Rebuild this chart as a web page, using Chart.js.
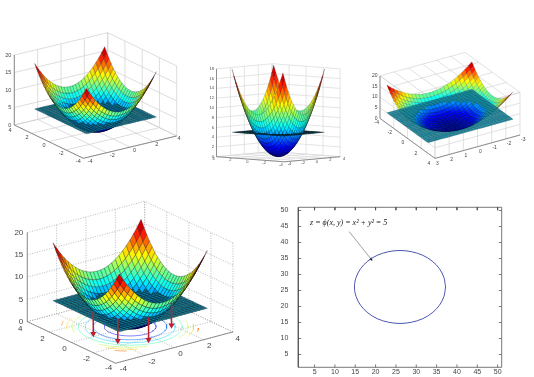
<!DOCTYPE html>
<html>
<head>
<meta charset="utf-8">
<style>
  html, body { margin: 0; padding: 0; background: #fff; }
  body { width: 534px; height: 377px; position: relative; overflow: hidden; }
  canvas { position: absolute; }
</style>
<script src="https://cdn.jsdelivr.net/npm/chart.js@4"></script>
</head>
<body>
<script>
// grid of the surface, x and y run over the same values
const gridAxis = [-3, -2.75, -2.5, -2.25, -2, -1.75, -1.5, -1.25, -1, -0.75, -0.5, -0.25, 0,
                  0.25, 0.5, 0.75, 1, 1.25, 1.5, 1.75, 2, 2.25, 2.5, 2.75, 3];

// z read per quadrant, first row/column is the centre of the bowl (the other 3 quadrants mirror it)
const surfaceZ = [
  [0, .06, .25, .56, 1, 1.56, 2.25, 3.06, 4, 5.06, 6.25, 7.56, 9],
  [.06, .12, .31, .62, 1.06, 1.62, 2.31, 3.12, 4.06, 5.12, 6.31, 7.62, 9.06],
  [.25, .31, .5, .81, 1.25, 1.81, 2.5, 3.31, 4.25, 5.31, 6.5, 7.81, 9.25],
  [.56, .62, .81, 1.12, 1.56, 2.12, 2.81, 3.62, 4.56, 5.62, 6.81, 8.12, 9.56],
  [1, 1.06, 1.25, 1.56, 2, 2.56, 3.25, 4.06, 5, 6.06, 7.25, 8.56, 10],
  [1.56, 1.62, 1.81, 2.12, 2.56, 3.12, 3.81, 4.62, 5.56, 6.62, 7.81, 9.12, 10.56],
  [2.25, 2.31, 2.5, 2.81, 3.25, 3.81, 4.5, 5.31, 6.25, 7.31, 8.5, 9.81, 11.25],
  [3.06, 3.12, 3.31, 3.62, 4.06, 4.62, 5.31, 6.12, 7.06, 8.12, 9.31, 10.62, 12.06],
  [4, 4.06, 4.25, 4.56, 5, 5.56, 6.25, 7.06, 8, 9.06, 10.25, 11.56, 13],
  [5.06, 5.12, 5.31, 5.62, 6.06, 6.62, 7.31, 8.12, 9.06, 10.12, 11.31, 12.62, 14.06],
  [6.25, 6.31, 6.5, 6.81, 7.25, 7.81, 8.5, 9.31, 10.25, 11.31, 12.5, 13.81, 15.25],
  [7.56, 7.62, 7.81, 8.12, 8.56, 9.12, 9.81, 10.62, 11.56, 12.62, 13.81, 15.12, 16.56],
  [9, 9.06, 9.25, 9.56, 10, 10.56, 11.25, 12.06, 13, 14.06, 15.25, 16.56, 18]
];
const planeLevel = 5;

// tick labels
const ticksXY = [-4, -2, 0, 2, 4];
const ticksZ = [0, 5, 10, 15, 20];
const ticksZ18 = [0, 2, 4, 6, 8, 10, 12, 14, 16, 18];
const ticksX3 = [3, 2, 1, 0, -1, -2, -3];
const ticks2d = [5, 10, 15, 20, 25, 30, 35, 40, 45, 50];

// contours under the big surface
const contourRadii = [1.41, 2, 2.45, 2.83, 3.16, 3.46, 3.74, 3.95];
const contourLevels = [2, 4, 6, 8, 10, 12, 14, 15.6];
const ringCos = [1, .996, .985, .966, .94, .906, .866, .819, .766, .707, .643, .574, .5, .423, .342, .259, .174, .087, 0];
const ringSin = [0, .087, .174, .259, .342, .423, .5, .574, .643, .707, .766, .819, .866, .906, .94, .966, .985, .996, 1];

// red arrows dropping from the plane to the floor
const arrowX = [-2.25, -1.82, -0.4, 1.93];
const arrowY = [0.35, -1.3, -2.2, -1.18];

// level curve in the 2d plot
const curveX = [37.2, 36.8, 35.7, 33.9, 31.6, 28.9, 26, 23.1, 20.4, 18.1, 16.3, 15.2, 14.8, 15.2, 16.3, 18.1, 20.4, 23.1, 26, 28.9, 31.6, 33.9, 35.7, 36.8, 37.2];
const curveY = [26.1, 29.05, 31.8, 34.2, 36, 37.1, 37.5, 37.1, 36, 34.2, 31.8, 29.05, 26.1, 23.15, 20.4, 18, 16.2, 15.1, 14.7, 15.1, 16.2, 18, 20.4, 23.15, 26.1];
const pointerX = [13.5, 18.9];
const pointerY = [43.4, 34.8];

const jetStops = [[0, 0, 143], [0, 0, 255], [0, 127, 255], [0, 255, 255], [127, 255, 127], [255, 255, 0], [255, 127, 0], [255, 0, 0], [127, 0, 0]];

function jet(z) {
    const t = Math.min(Math.max(z / 18, 0), 0.9999) * (jetStops.length - 1);
    const i = Math.floor(t);
    const c = jetStops[i].map((v, k) => Math.round(v + (jetStops[i + 1][k] - v) * (t - i)));
    return `rgb(${c[0]},${c[1]},${c[2]})`;
}

function zAt(i, j) {
    return surfaceZ[Math.abs(i - 12)][Math.abs(j - 12)];
}

// the four 3d panels, view is where one unit of x, y, z ends up on the canvas
const panels = [
    {
        left: 0, top: 25, width: 190, height: 150,
        origin: [95.5, 105.5], ex: [11.675, -2.79], ey: [-8.625, -4.16], ez: [0, -3.5],
        xTicks: ticksXY, yTicks: ticksXY, zTicks: ticksZ,
        corner: [-4, 4], edgeY: -4, wallX: 4, wallY: 4, gridZ: 0,
        font: '5.5px "Liberation Sans"', mesh: 0.3, plane: '#0f7d99', grid: '#cfcfcf',
        offX0: [6.7, 3.4], offX1: [2.3, 2.3], offY0: [-5, 3.4], offY1: [-4.3, 5], offZ: -3
    },
    {
        left: 200, top: 55, width: 160, height: 125,
        origin: [78.3, 101.7], ex: [6.95, -0.64], ey: [-8.5, -0.64], ez: [0, -4.88],
        xTicks: ticksXY, yTicks: ticksXY, zTicks: ticksZ18,
        corner: [-4, 4], edgeY: -4, wallX: 4, wallY: 4, gridZ: 0,
        font: '4px "Liberation Sans"', mesh: 0.22, plane: '#0f7d99', grid: '#d8d8d8',
        offX0: [5, 2.5], offX1: [4, 2], offY0: [-3.5, 3], offY1: [-3, 2], offZ: -2.5
    },
    {
        left: 360, top: 45, width: 174, height: 130,
        origin: [90, 81.7], ex: [-14.17, 3.9], ey: [6.875, 5], ez: [0, -2.13],
        xTicks: ticksX3, yTicks: ticksXY, zTicks: ticksZ,
        corner: [3, -4], edgeY: 4, wallX: 3, wallY: 4, gridZ: 20, fromBelow: true,
        font: '5px "Liberation Sans"', mesh: 0.2, plane: '#1a8ea6', grid: '#d4d4d4',
        offX0: [2.3, 5.7], offX1: [3.3, 4.3], offY0: [-3.3, 4], offY1: [-6, 5], offZ: -2.5
    },
    {
        left: 0, top: 190, width: 270, height: 187,
        origin: [130, 138.7], ex: [15.125, -4.09], ey: [-11.375, -5.43], ez: [0, -4.65],
        xTicks: ticksXY, yTicks: ticksXY, zTicks: ticksZ,
        corner: [-4, 4], edgeY: -4, wallX: 4, wallY: 4, gridZ: 0,
        font: '8px "Liberation Sans"', mesh: 0.4, plane: '#0f7d99', grid: '#a8a8a8', dotted: true,
        offX0: [7.7, 6], offX1: [4.7, 6.7], offY0: [-7, 5], offY1: [-7, 7], offZ: -4,
        contours: true, arrows: true
    }
];

function addCanvas(left, top, width, height) {
    const canvas = document.createElement('canvas');
    canvas.width = width;
    canvas.height = height;
    canvas.style.left = left + 'px';
    canvas.style.top = top + 'px';
    canvas.style.width = width + 'px';
    canvas.style.height = height + 'px';
    document.body.appendChild(canvas);
    return canvas;
}

// draws text at data positions, with a small pixel offset
function textPlugin(items) {
    return {
        id: 'axisText',
        afterDraw(chart) {
            const ctx = chart.ctx;
            ctx.save();
            ctx.textBaseline = 'middle';
            items.forEach(t => {
                ctx.font = t.font;
                ctx.fillStyle = t.color;
                ctx.textAlign = t.align || 'center';
                ctx.fillText(t.text, chart.scales.x.getPixelForValue(t.x) + (t.dx || 0),
                    chart.scales.y.getPixelForValue(t.y) + (t.dy || 0));
            });
            ctx.restore();
        }
    };
}

function drawPanel(p) {
    const proj = (x, y, z) => ({
        x: p.origin[0] + x * p.ex[0] + y * p.ey[0] + z * p.ez[0],
        y: p.origin[1] + x * p.ex[1] + y * p.ey[1] + z * p.ez[1]
    });

    const xs = [p.xTicks[0], p.xTicks[p.xTicks.length - 1]];
    const ys = [p.yTicks[0], p.yTicks[p.yTicks.length - 1]];
    const zTop = p.zTicks[p.zTicks.length - 1];

    const line = (points, color, width, dash) => ({
        data: points, showLine: true, fill: false, parsing: false, normalized: false,
        borderColor: color, borderWidth: width, borderDash: dash || [], pointRadius: 0
    });

    // back walls and floor
    const back = [];
    const dash = p.dotted ? [1, 1.5] : [];
    const gridLine = (a, b) => back.push(line([proj(...a), proj(...b)], p.grid, p.dotted ? 0.8 : 0.7, dash));
    p.xTicks.forEach(t => {
        gridLine([t, ys[0], p.gridZ], [t, ys[1], p.gridZ]);
        gridLine([t, p.wallY, 0], [t, p.wallY, zTop]);
    });
    p.yTicks.forEach(t => {
        gridLine([xs[0], t, p.gridZ], [xs[1], t, p.gridZ]);
        gridLine([p.wallX, t, 0], [p.wallX, t, zTop]);
    });
    p.zTicks.forEach(t => {
        gridLine([xs[0], p.wallY, t], [xs[1], p.wallY, t]);
        gridLine([p.wallX, ys[0], t], [p.wallX, ys[1], t]);
    });

    // axes lines
    const axisColor = '#777';
    const [cx, cy] = p.corner;
    back.push(line([proj(cx, cy, 0), proj(cx, cy, zTop)], axisColor, 0.8));
    back.push(line([proj(cx, ys[0], 0), proj(cx, ys[1], 0)], axisColor, 0.8));
    back.push(line([proj(xs[0], p.edgeY, 0), proj(xs[1], p.edgeY, 0)], axisColor, 0.8));

    if (p.contours) {
        contourRadii.forEach((r, k) => {
            [[1, 1], [-1, 1], [-1, -1], [1, -1]].forEach(([sx, sy]) => {
                const arc = ringCos.map((c, i) => {
                    const x = sx * r * c, y = sy * r * ringSin[i];
                    return Math.abs(x) > 3 || Math.abs(y) > 3 ? { x: NaN, y: NaN } : proj(x, y, 0);
                });
                back.push(line(arc, jet(contourLevels[k]), 0.5));
            });
        });
    }

    // surface and plane cut into quads, then painter's sort along the view direction
    let vx = p.ey[0] * p.ez[1] - p.ez[0] * p.ey[1];
    let vy = p.ez[0] * p.ex[1] - p.ex[0] * p.ez[1];
    let vz = p.ex[0] * p.ey[1] - p.ey[0] * p.ex[1];
    const flip = (vz > 0) === !!p.fromBelow ? -1 : 1;
    vx *= flip; vy *= flip; vz *= flip;

    const quads = [];
    for (let i = 0; i < gridAxis.length - 1; i++) {
        for (let j = 0; j < gridAxis.length - 1; j++) {
            const x0 = gridAxis[i], x1 = gridAxis[i + 1], y0 = gridAxis[j], y1 = gridAxis[j + 1];
            const z00 = zAt(i, j), z10 = zAt(i + 1, j), z11 = zAt(i + 1, j + 1), z01 = zAt(i, j + 1);
            const mean = (z00 + z10 + z11 + z01) / 4;
            const mx = (x0 + x1) / 2, my = (y0 + y1) / 2;
            quads.push({
                depth: vx * mx + vy * my + vz * mean,
                color: jet(mean),
                data: [proj(x0, y0, z00), proj(x1, y0, z10), proj(x1, y1, z11), proj(x0, y1, z01), proj(x0, y0, z00)]
            });
            quads.push({
                depth: vx * mx + vy * my + vz * planeLevel,
                color: p.plane,
                data: [proj(x0, y0, planeLevel), proj(x1, y0, planeLevel), proj(x1, y1, planeLevel), proj(x0, y1, planeLevel), proj(x0, y0, planeLevel)]
            });
        }
    }
    quads.sort((a, b) => a.depth - b.depth);
    const mesh = quads.map(q => ({
        data: q.data, showLine: true, parsing: false, normalized: false, fill: 'shape',
        backgroundColor: q.color, borderColor: 'rgba(0,0,0,0.7)', borderWidth: p.mesh, pointRadius: 0
    }));

    const front = [];
    if (p.arrows) {
        arrowX.forEach((x, i) => {
            front.push({
                data: [proj(x, arrowY[i], planeLevel), proj(x, arrowY[i], 0)],
                showLine: true, parsing: false, normalized: false, fill: false,
                borderColor: '#c0202c', borderWidth: 1.5,
                pointRadius: [0, 3.5], pointStyle: 'triangle', pointRotation: 180,
                pointBackgroundColor: '#c0202c', pointBorderColor: '#c0202c', pointBorderWidth: 0
            });
        });
    }

    // chart.js paints the first dataset last, so the list goes near to far
    const datasets = [...front, ...mesh.reverse(), ...back.reverse()];

    const labels = [];
    const tick = (pos, text, off, align) => {
        const q = proj(...pos);
        labels.push({ x: q.x, y: q.y, text: String(text), dx: off[0], dy: off[1], font: p.font, color: '#444', align });
    };
    const lerp = (a, b, t) => [a[0] + (b[0] - a[0]) * t, a[1] + (b[1] - a[1]) * t];
    p.xTicks.forEach((t, i) => tick([t, p.edgeY, 0], t, lerp(p.offX0, p.offX1, i / (p.xTicks.length - 1))));
    p.yTicks.forEach((t, i) => tick([cx, t, 0], t, lerp(p.offY0, p.offY1, i / (p.yTicks.length - 1))));
    p.zTicks.forEach(t => tick([cx, cy, t], t, [p.offZ, 0], 'right'));

    new Chart(addCanvas(p.left, p.top, p.width, p.height), {
        type: 'scatter',
        data: { datasets },
        options: {
            responsive: false,
            animation: false,
            events: [],
            clip: false,
            plugins: { legend: { display: false }, tooltip: { enabled: false }, filler: { propagate: false } },
            scales: {
                x: { type: 'linear', display: false, min: 0, max: p.width },
                y: { type: 'linear', display: false, min: 0, max: p.height, reverse: true }
            }
        },
        plugins: [textPlugin(labels)]
    });
}

function drawPlot2d() {
    const curve = curveX.map((x, i) => ({ x, y: curveY[i] }));
    const pointer = pointerX.map((x, i) => ({ x, y: pointerY[i] }));
    const inner = [];
    ticks2d.forEach(t => {
        inner.push({ x: t, y: 1 }, { x: t, y: 1.9 }, { x: NaN, y: NaN });
        inner.push({ x: t, y: 51 }, { x: t, y: 50.1 }, { x: NaN, y: NaN });
        inner.push({ x: 1, y: t }, { x: 1.7, y: t }, { x: NaN, y: NaN });
        inner.push({ x: 51, y: t }, { x: 50.3, y: t }, { x: NaN, y: NaN });
    });
    const box = [{ x: 1, y: 1 }, { x: 51, y: 1 }, { x: 51, y: 51 }, { x: 1, y: 51 }, { x: 1, y: 1 }];
    const useTicks = scale => { scale.ticks = ticks2d.map(value => ({ value })); };
    const tickFont = { family: 'Liberation Sans', size: 7 };

    // x labels go through the text plugin, the squeezed bottom axis drops its own
    const texts = ticks2d.map(t => ({ x: t, y: 1, dy: 4.6, text: String(t), font: '7px "Liberation Sans"', color: '#444' }));
    texts.push({ x: 3.9, y: 46.2, text: 'z = \u03D5(x, y) = x\u00B2 + y\u00B2 = 5', font: 'italic 8px "Liberation Serif"', color: '#222', align: 'left' });

    new Chart(addCanvas(280, 195, 254, 182), {
        type: 'scatter',
        data: {
            datasets: [
                { data: curve, showLine: true, tension: 0.35, borderColor: '#4a55b0', borderWidth: 1, pointRadius: 0 },
                {
                    data: pointer, showLine: true, borderColor: '#777', borderWidth: 0.7,
                    pointRadius: [0, 2], pointStyle: 'triangle', pointRotation: 141,
                    pointBackgroundColor: '#111', pointBorderWidth: 0
                },
                { data: inner, showLine: true, borderColor: '#444', borderWidth: 0.7, pointRadius: 0 },
                { data: box, showLine: true, borderColor: '#555', borderWidth: 0.8, pointRadius: 0 }
            ]
        },
        options: {
            responsive: false,
            animation: false,
            events: [],
            clip: false,
            layout: { padding: { top: 12.3, right: 32.3, left: 0, bottom: 0 } },
            plugins: { legend: { display: false }, tooltip: { enabled: false } },
            scales: {
                x: {
                    type: 'linear', min: 1, max: 51,
                    afterFit(s) { s.height = 9.7; },
                    grid: { display: false }, border: { display: false },
                    ticks: { display: false }
                },
                y: {
                    type: 'linear', min: 1, max: 51,
                    afterBuildTicks: useTicks,
                    afterFit(s) { s.width = 18.3; },
                    grid: { display: false }, border: { display: false },
                    ticks: { font: tickFont, color: '#444', padding: 2, autoSkip: false }
                }
            }
        },
        plugins: [textPlugin(texts)]
    });
}

panels.forEach(drawPanel);
drawPlot2d();
</script>
</body>
</html>
